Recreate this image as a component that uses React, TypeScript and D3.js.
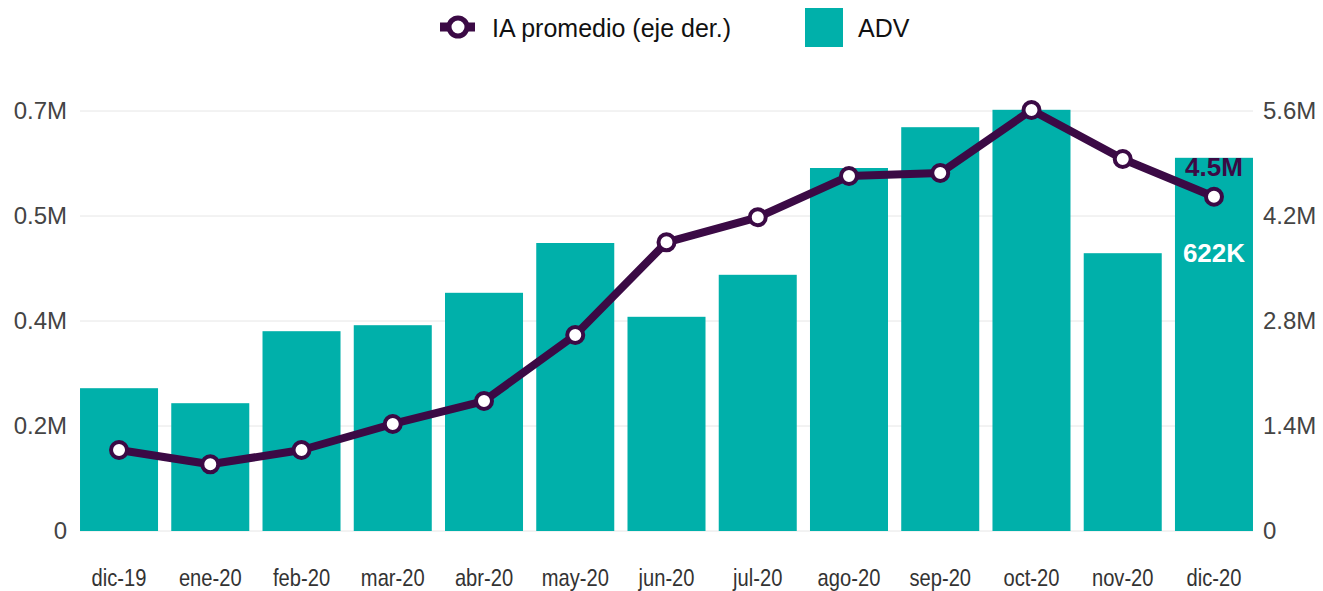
import React from "react";
import * as d3 from "d3";

const categories = ["dic-19","ene-20","feb-20","mar-20","abr-20","may-20","jun-20","jul-20","ago-20","sep-20","oct-20","nov-20","dic-20"];
const advValues = [238000,213000,333000,343000,397000,480000,357000,427000,605000,673000,702000,463000,622000];
const iaValues = [1080000,889000,1080000,1427000,1733000,2613000,3849000,4183000,4733000,4773000,5613000,4960000,4457000];
const leftTicks = [0,175000,350000,525000,700000];
const rightTicks = [0,1400000,2800000,4200000,5600000];

const W = 1323, H = 591;
const TEAL = "#00B0AA";
const PURPLE = "#3B0A45";
const FONT = "'Liberation Sans', Arial, sans-serif";

function fmtM(v: number) {
  if (v === 0) return "0";
  return (Math.round(v / 1e5) / 10).toFixed(1) + "M";
}

export default function App() {
  const x = d3.scaleBand<string>().domain(categories).range([73.4, 1259.6]).paddingInner(0.145).paddingOuter(0.0725);
  const yL = d3.scaleLinear().domain([0, 700000]).range([531, 111]);
  const yR = d3.scaleLinear().domain([0, 5600000]).range([531, 111]);
  const cx = (c: string) => (x(c) as number) + x.bandwidth() / 2;
  const line = d3.line<number>().x((_, i) => cx(categories[i])).y(d => yR(d));
  const gx0 = 80, gx1 = 1253;
  const last = categories.length - 1;

  return (
    <svg width={W} height={H} style={{ position: "absolute", left: 0, top: 0, background: "#fff" }} fontFamily={FONT}>
      {leftTicks.map((t, i) => (
        <line key={i} x1={gx0} x2={gx1} y1={yL(t)} y2={yL(t)} stroke="#e6e6e6" strokeWidth={1} />
      ))}
      {leftTicks.map((t, i) => (
        <text key={i} x={67} y={yL(t)} dy="0.35em" textAnchor="end" fontSize={24} fill="#444">{fmtM(t)}</text>
      ))}
      {rightTicks.map((t, i) => (
        <text key={i} x={1263} y={yR(t)} dy="0.35em" textAnchor="start" fontSize={24} fill="#444">{fmtM(t)}</text>
      ))}
      {advValues.map((v, i) => (
        <rect key={i} x={x(categories[i])} y={yL(v)} width={x.bandwidth()} height={yL(0) - yL(v)} fill={TEAL} />
      ))}
      {categories.map((c, i) => (
        <text key={i} transform={`translate(${cx(c)},578) scale(0.84,1)`} dy="0.35em" textAnchor="middle" fontSize={24} fill="#333">{c}</text>
      ))}
      <path d={line(iaValues) || ""} fill="none" stroke={PURPLE} strokeWidth={8} strokeLinejoin="round" />
      {iaValues.map((v, i) => (
        <circle key={i} cx={cx(categories[i])} cy={yR(v)} r={8} fill="#fff" stroke={PURPLE} strokeWidth={4} />
      ))}
      <text x={cx(categories[last])} y={167} dy="0.35em" textAnchor="middle" fontSize={26} fontWeight="bold" fill={PURPLE}>{(iaValues[last] / 1e6).toFixed(1) + "M"}</text>
      <text x={cx(categories[last])} y={253} dy="0.35em" textAnchor="middle" fontSize={26} fontWeight="bold" fill="#fff">{Math.round(advValues[last] / 1000) + "K"}</text>
      <line x1={440} x2={475} y1={27} y2={27} stroke={PURPLE} strokeWidth={9} />
      <circle cx={458} cy={27} r={9} fill="#fff" stroke={PURPLE} strokeWidth={5} />
      <text x={492} y={28} dy="0.35em" fontSize={25} fill="#111">IA promedio (eje der.)</text>
      <rect x={805} y={8} width={38} height={39} fill={TEAL} />
      <text x={858} y={28} dy="0.35em" fontSize={25} fill="#111">ADV</text>
    </svg>
  );
}
